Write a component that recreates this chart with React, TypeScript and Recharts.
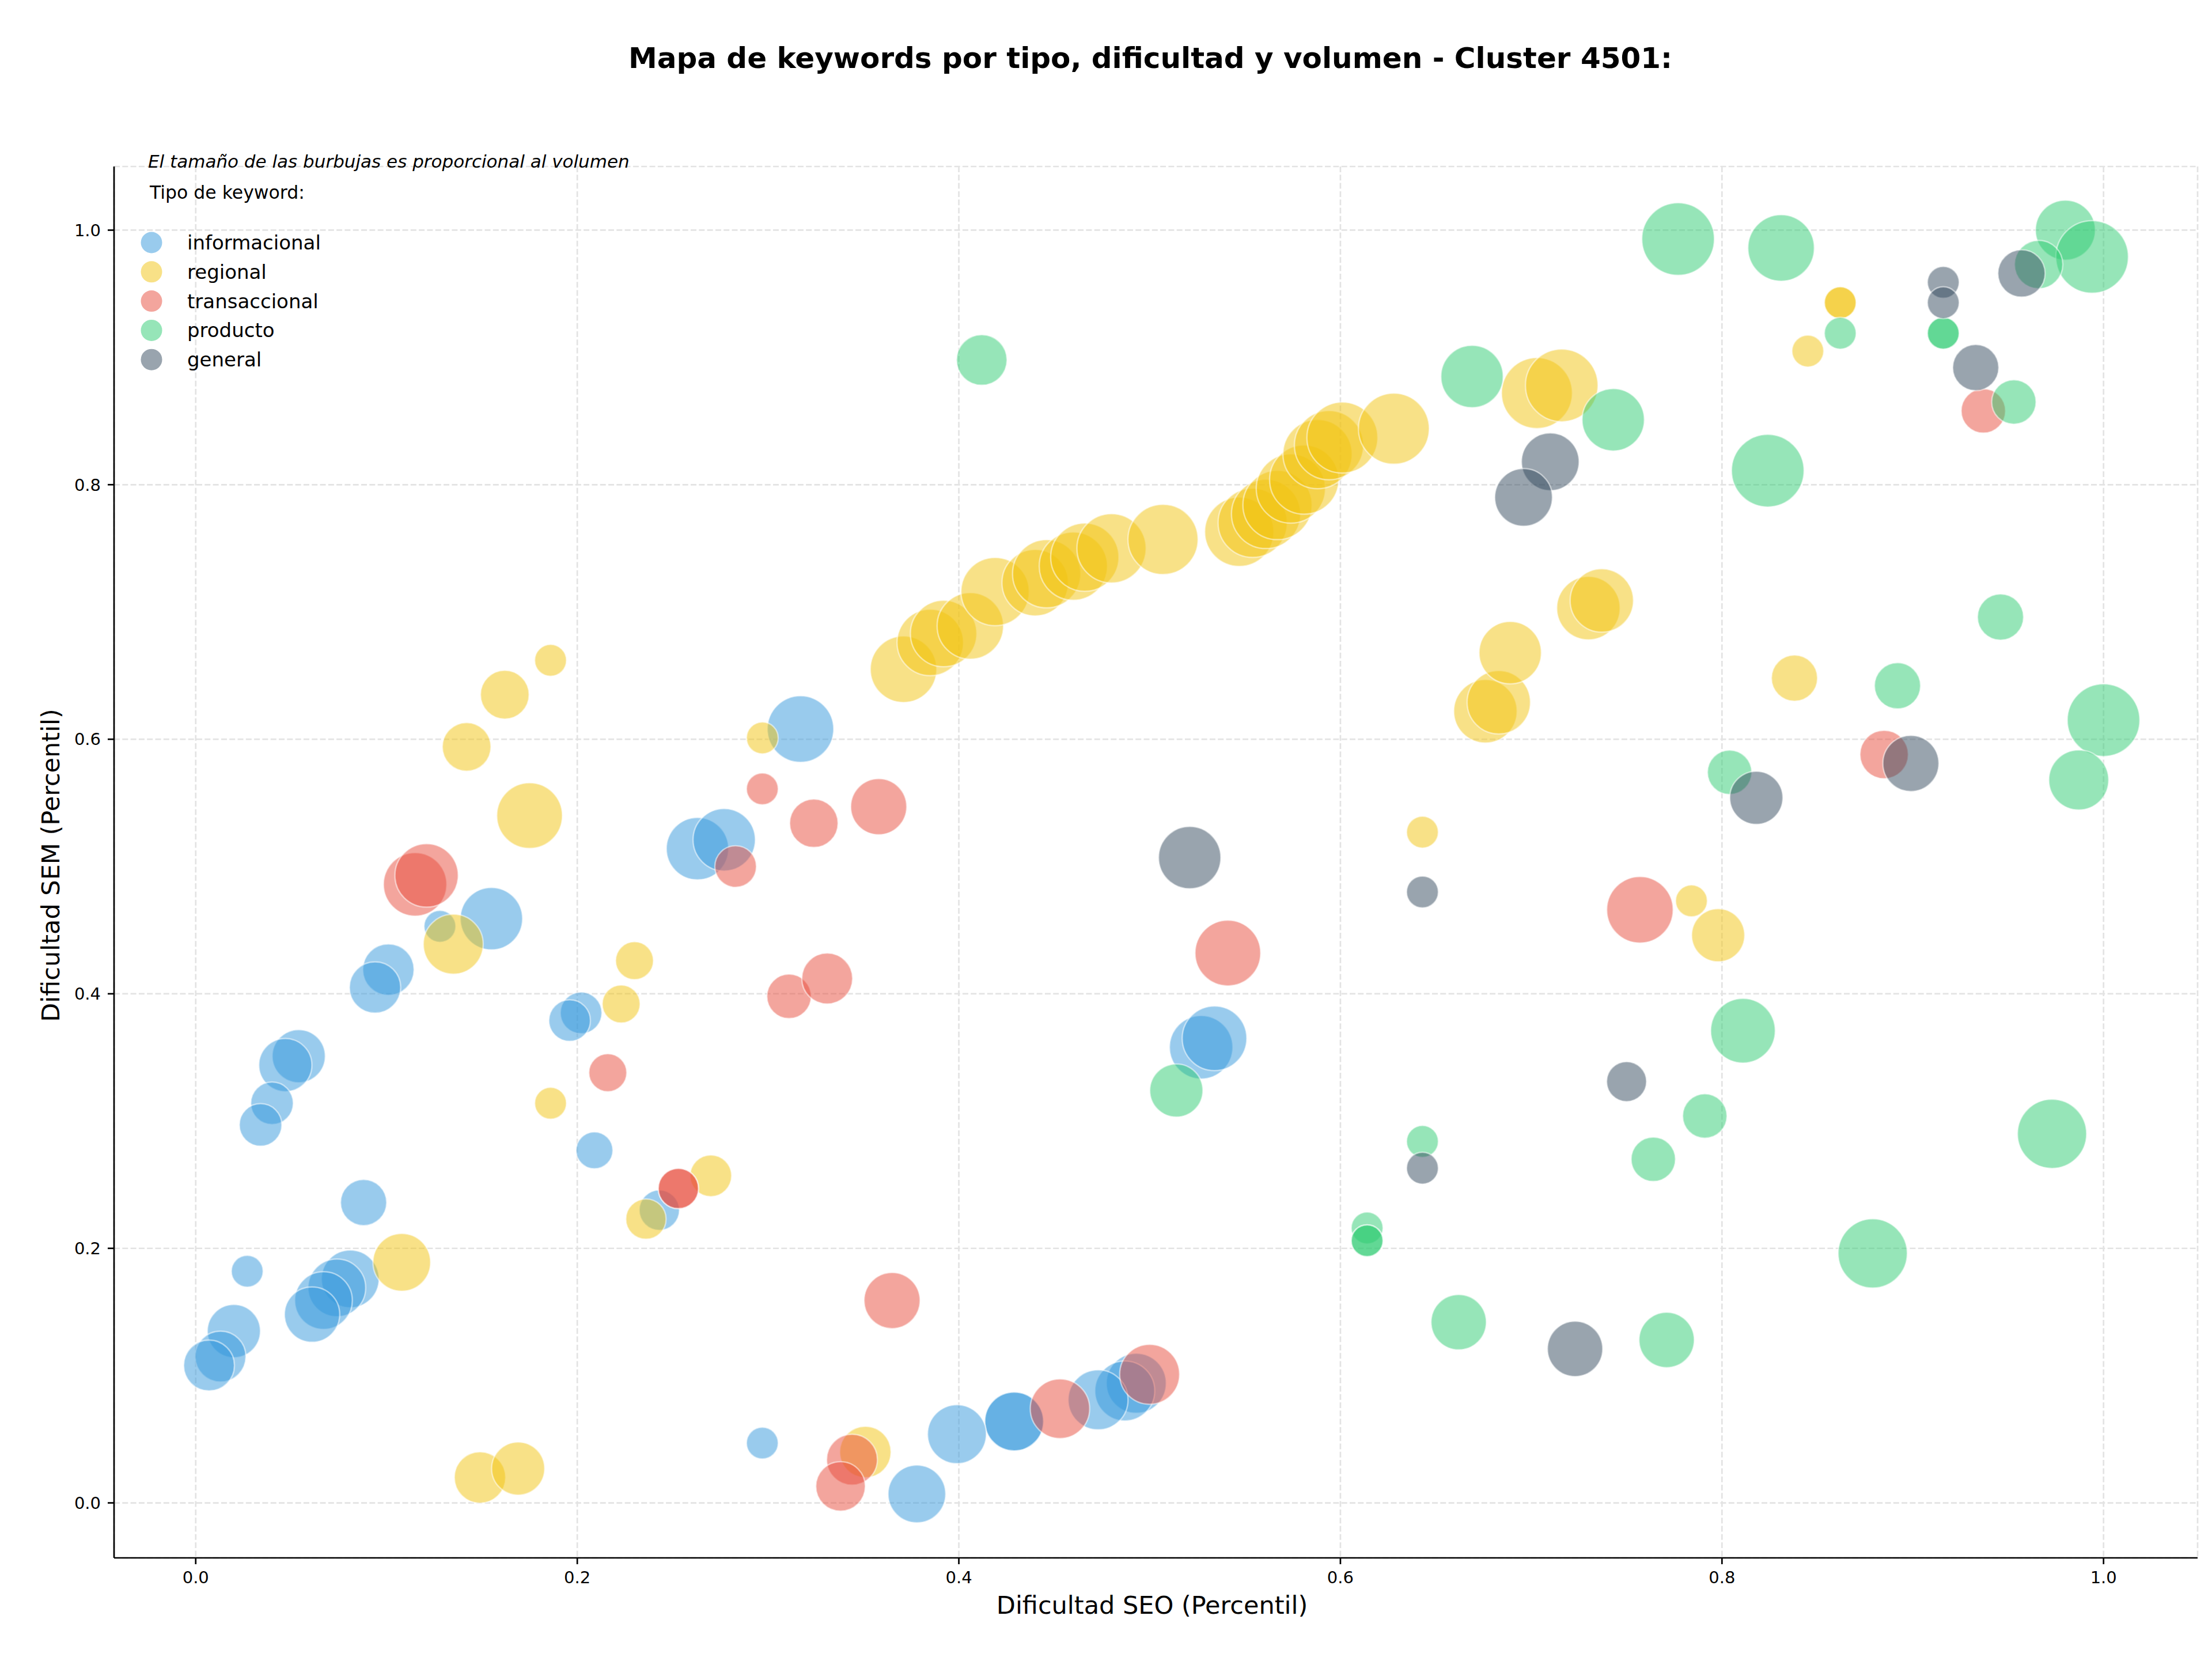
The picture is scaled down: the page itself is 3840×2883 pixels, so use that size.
import { ScatterChart, Scatter, XAxis, YAxis, ZAxis, CartesianGrid } from "recharts";

// [dificultad SEO, dificultad SEM, volumen]
type Row = [number, number, number];

const informacional: Row[] = [
  [0.317, 0.608, 1660], [0.263, 0.514, 1460], [0.277, 0.521, 1460], [0.128, 0.453, 380],
  [0.155, 0.459, 1460], [0.101, 0.419, 990], [0.094, 0.405, 990], [0.054, 0.351, 1060],
  [0.047, 0.344, 1060], [0.040, 0.314, 680], [0.034, 0.297, 680], [0.088, 0.236, 800],
  [0.027, 0.182, 380], [0.081, 0.176, 1250], [0.074, 0.169, 1250], [0.067, 0.159, 1250],
  [0.061, 0.148, 1150], [0.020, 0.135, 1060], [0.013, 0.115, 970], [0.007, 0.108, 970],
  [0.297, 0.047, 380], [0.202, 0.385, 650], [0.196, 0.379, 650], [0.209, 0.277, 510],
  [0.243, 0.230, 610], [0.527, 0.358, 1510], [0.534, 0.365, 1570], [0.493, 0.094, 1350],
  [0.487, 0.088, 1350], [0.473, 0.081, 1350], [0.429, 0.064, 1300], [0.429, 0.064, 1300],
  [0.399, 0.054, 1300], [0.378, 0.007, 1250],
];

const regional: Row[] = [
  [0.186, 0.662, 380], [0.162, 0.635, 890], [0.142, 0.594, 890], [0.175, 0.540, 1620],
  [0.297, 0.601, 380], [0.135, 0.439, 1350], [0.108, 0.189, 1250], [0.223, 0.392, 540],
  [0.230, 0.426, 540], [0.186, 0.314, 380], [0.270, 0.257, 650], [0.236, 0.223, 610],
  [0.149, 0.020, 990], [0.169, 0.027, 1060], [0.351, 0.040, 990],
  [0.371, 0.655, 1660], [0.385, 0.676, 1660], [0.392, 0.683, 1660], [0.406, 0.689, 1660],
  [0.419, 0.716, 1750], [0.440, 0.723, 1660], [0.446, 0.730, 1750], [0.460, 0.736, 1750],
  [0.466, 0.743, 1750], [0.480, 0.750, 1800], [0.507, 0.757, 1850], [0.547, 0.763, 1800],
  [0.554, 0.770, 1800], [0.561, 0.777, 1800], [0.567, 0.784, 1800], [0.574, 0.797, 1800],
  [0.581, 0.804, 1800], [0.588, 0.824, 1800], [0.594, 0.831, 1800], [0.601, 0.837, 1890],
  [0.628, 0.844, 1890], [0.643, 0.527, 380], [0.703, 0.872, 1890], [0.716, 0.878, 1980],
  [0.730, 0.703, 1510], [0.737, 0.709, 1510], [0.676, 0.622, 1510], [0.683, 0.629, 1510],
  [0.689, 0.668, 1460], [0.838, 0.648, 800], [0.862, 0.943, 380], [0.862, 0.943, 380],
  [0.845, 0.905, 380], [0.784, 0.473, 380], [0.798, 0.446, 1060],
];

const transaccional: Row[] = [
  [0.297, 0.561, 380], [0.283, 0.500, 650], [0.115, 0.486, 1510], [0.121, 0.493, 1510],
  [0.216, 0.338, 540], [0.311, 0.398, 740], [0.331, 0.412, 970], [0.324, 0.534, 880],
  [0.358, 0.547, 1180], [0.253, 0.247, 610], [0.253, 0.247, 610], [0.365, 0.159, 1180],
  [0.500, 0.101, 1350], [0.453, 0.074, 1330], [0.344, 0.034, 970], [0.338, 0.013, 920],
  [0.541, 0.432, 1620], [0.757, 0.466, 1660], [0.885, 0.588, 880], [0.937, 0.858, 740],
];

const producto: Row[] = [
  [0.412, 0.898, 960], [0.669, 0.885, 1460], [0.777, 0.993, 1980], [0.831, 0.986, 1660],
  [0.980, 1.000, 1350], [0.994, 0.979, 1980], [0.966, 0.973, 880], [0.916, 0.919, 380],
  [0.916, 0.919, 380], [0.862, 0.919, 380], [0.953, 0.865, 740], [0.743, 0.851, 1460],
  [0.824, 0.811, 1980], [0.892, 0.642, 800], [0.946, 0.696, 800], [1.000, 0.615, 1980],
  [0.987, 0.568, 1350], [0.804, 0.574, 740], [0.514, 0.324, 1060], [0.643, 0.284, 380],
  [0.614, 0.216, 380], [0.614, 0.206, 380], [0.614, 0.206, 380], [0.662, 0.142, 1150],
  [0.811, 0.371, 1570], [0.791, 0.304, 740], [0.764, 0.270, 740], [0.973, 0.290, 1800],
  [0.879, 0.196, 1800], [0.771, 0.128, 1150],
];

const general: Row[] = [
  [0.957, 0.966, 840], [0.916, 0.959, 380], [0.916, 0.943, 380], [0.933, 0.892, 800],
  [0.710, 0.818, 1250], [0.696, 0.790, 1250], [0.521, 0.507, 1460], [0.643, 0.480, 380],
  [0.643, 0.263, 380], [0.899, 0.581, 1180], [0.818, 0.554, 1060], [0.750, 0.331, 600],
  [0.723, 0.121, 1150],
];

const tipos = ["informacional", "regional", "transaccional", "producto", "general"];
const colores = ["#3498db", "#f1c40f", "#e74c3c", "#2ecc71", "#34495e"];
const series = [informacional, regional, transaccional, producto, general];
const ticks = [0, 0.2, 0.4, 0.6, 0.8, 1.0];

const FONT = "DejaVu Sans";
const W = 3840;
const H = 2883;

const toPoints = (rows: Row[]) => rows.map(([seo, sem, volumen]) => ({ seo, sem, volumen }));

function Bubble(props: any) {
  const { cx, cy, width, color } = props;
  if (cx == null || cy == null) return null;
  return (
    <circle
      cx={cx}
      cy={cy}
      r={width / 2}
      fill={color}
      fillOpacity={0.5}
      stroke="#fff"
      strokeOpacity={0.5}
      strokeWidth={2.5}
    />
  );
}

const tickStyle = { fill: "#000", fontSize: 29, fontFamily: FONT };
const axisStroke = { stroke: "#000", strokeWidth: 2.7 };

export default function App() {
  return (
    <div style={{ position: "absolute", left: 0, top: 0, width: W, height: H, background: "#fff" }}>
      <ScatterChart width={W} height={H} margin={{ top: 289, right: 25, bottom: 99, left: 78 }}>
        <CartesianGrid stroke="#e3e3e3" strokeWidth={2.7} strokeDasharray="10 4.3" />
        <XAxis
          type="number"
          dataKey="seo"
          domain={[-0.0428, 1.0493]}
          allowDataOverflow
          ticks={ticks}
          tickFormatter={(v: number) => v.toFixed(1)}
          height={80}
          tickSize={11}
          tickMargin={12}
          axisLine={axisStroke}
          tickLine={axisStroke}
          tick={tickStyle}
        />
        <YAxis
          type="number"
          dataKey="sem"
          domain={[-0.0432, 1.05]}
          allowDataOverflow
          ticks={ticks}
          tickFormatter={(v: number) => v.toFixed(1)}
          width={120}
          tickSize={11}
          tickMargin={12}
          axisLine={axisStroke}
          tickLine={axisStroke}
          tick={tickStyle}
        />
        <ZAxis type="number" dataKey="volumen" domain={[0, 2000]} range={[0, 4000 * Math.PI]} />
        {series.map((rows, i) => (
          <Scatter
            key={tipos[i]}
            name={tipos[i]}
            data={toPoints(rows)}
            fill={colores[i]}
            isAnimationActive={false}
            shape={(p: any) => <Bubble {...p} color={colores[i]} />}
          />
        ))}
      </ScatterChart>

      <svg
        width={W}
        height={H}
        style={{ position: "absolute", left: 0, top: 0, pointerEvents: "none" }}
        fontFamily={FONT}
      >
        <text x={1997} y={118} textAnchor="middle" fontSize={50} fontWeight="bold">
          Mapa de keywords por tipo, dificultad y volumen - Cluster 4501:
        </text>
        <text x={257} y={291} fontSize={31} fontStyle="italic">
          El tamaño de las burbujas es proporcional al volumen
        </text>
        <text x={260} y={345} fontSize={31.5}>
          Tipo de keyword:
        </text>
        {tipos.map((t, i) => {
          const cy = 421 + i * 50.8;
          return (
            <g key={t}>
              <circle cx={263} cy={cy} r={18.5} fill={colores[i]} fillOpacity={0.5} />
              <text x={325} y={cy + 12} fontSize={34}>
                {t}
              </text>
            </g>
          );
        })}
        <text x={2000} y={2801} textAnchor="middle" fontSize={43}>
          Dificultad SEO (Percentil)
        </text>
        <text x={103} y={1502} textAnchor="middle" fontSize={43} transform="rotate(-90, 103, 1502)">
          Dificultad SEM (Percentil)
        </text>
      </svg>
    </div>
  );
}
